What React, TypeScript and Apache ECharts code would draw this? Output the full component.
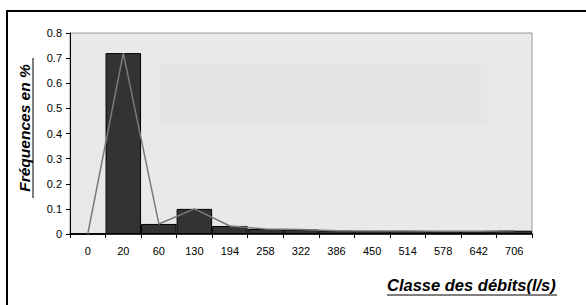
import React, { useEffect, useRef } from "react";
import * as echarts from "echarts";

const categories = ["0", "20", "60", "130", "194", "258", "322", "386", "450", "514", "578", "642", "706"];
const barValues = [0, 0.72, 0.04, 0.1, 0.032, 0.02, 0.018, 0.013, 0.012, 0.012, 0.011, 0.011, 0.013];
const lineValues = [0, 0.72, 0.04, 0.1, 0.032, 0.02, 0.018, 0.013, 0.012, 0.012, 0.011, 0.011, 0.013];
const yTitle = "Fréquences en %";
const xTitle = "Classe des débits(l/s)";

export default function App() {
  const ref = useRef<HTMLDivElement>(null);
  useEffect(() => {
    if (!ref.current) return;
    const chart = echarts.init(ref.current, undefined, { renderer: "svg" });
    const font = "'Liberation Sans', Arial, sans-serif";
    chart.setOption({
      animation: false,
      backgroundColor: "#ffffff",
      textStyle: { fontFamily: font },
      grid: {
        left: 70,
        top: 33,
        right: 54,
        bottom: 71,
        show: true,
        backgroundColor: "#e9e9e9",
        borderColor: "#9a9a9a",
        borderWidth: 1,
      },
      xAxis: {
        type: "category",
        data: categories,
        boundaryGap: true,
        axisLine: { show: true, lineStyle: { color: "#000", width: 1.5 } },
        axisTick: { show: true, length: 4, lineStyle: { color: "#000" } },
        axisLabel: { color: "#000", fontSize: 11, margin: 11, fontFamily: font, interval: 0 },
      },
      yAxis: {
        type: "value",
        min: 0,
        max: 0.8,
        interval: 0.1,
        axisLine: { show: true, lineStyle: { color: "#000", width: 1 } },
        axisTick: { show: true, length: 4, lineStyle: { color: "#000" } },
        axisLabel: { color: "#000", fontSize: 11, margin: 8, fontFamily: font },
        splitLine: { show: false },
      },
      graphic: [
        {
          type: "rect",
          z: 1,
          silent: true,
          shape: { x: 160, y: 63, width: 327, height: 62 },
          style: { fill: "#e5e5e5" },
        },
        {
          type: "rect",
          z: 10,
          silent: true,
          shape: { x: 7, y: 11, width: 700, height: 400 },
          style: { fill: "none", stroke: "#000", lineWidth: 2 },
        },
        {
          type: "text",
          z: 10,
          x: 24,
          y: 128,
          rotation: Math.PI / 2,
          style: {
            text: yTitle,
            fontFamily: font,
            fontSize: 15.5,
            fontWeight: "bold",
            fontStyle: "italic",
            fill: "#000",
            align: "center",
            verticalAlign: "middle",
          },
        },
        {
          type: "line",
          z: 10,
          shape: { x1: 33, y1: 58, x2: 33, y2: 198 },
          style: { stroke: "#000", lineWidth: 1 },
        },
        {
          type: "text",
          z: 10,
          x: 387,
          y: 285,
          style: {
            text: xTitle,
            fontFamily: font,
            fontSize: 16.5,
            fontWeight: "bold",
            fontStyle: "italic",
            fill: "#000",
            align: "left",
            verticalAlign: "middle",
          },
        },
        {
          type: "line",
          z: 10,
          shape: { x1: 387, y1: 295, x2: 557, y2: 295 },
          style: { stroke: "#000", lineWidth: 1 },
        },
      ],
      series: [
        {
          type: "bar",
          data: barValues,
          barCategoryGap: "0%",
          itemStyle: { color: "#333333", borderColor: "#000", borderWidth: 1 },
          z: 2,
        },
        {
          type: "line",
          data: lineValues,
          symbol: "none",
          lineStyle: { color: "#7a7a7a", width: 1.5 },
          z: 3,
        },
      ],
    });
    return () => chart.dispose();
  }, []);
  return (
    <div
      ref={ref}
      style={{ position: "fixed", left: 0, top: 0, width: 586, height: 305 }}
    />
  );
}
